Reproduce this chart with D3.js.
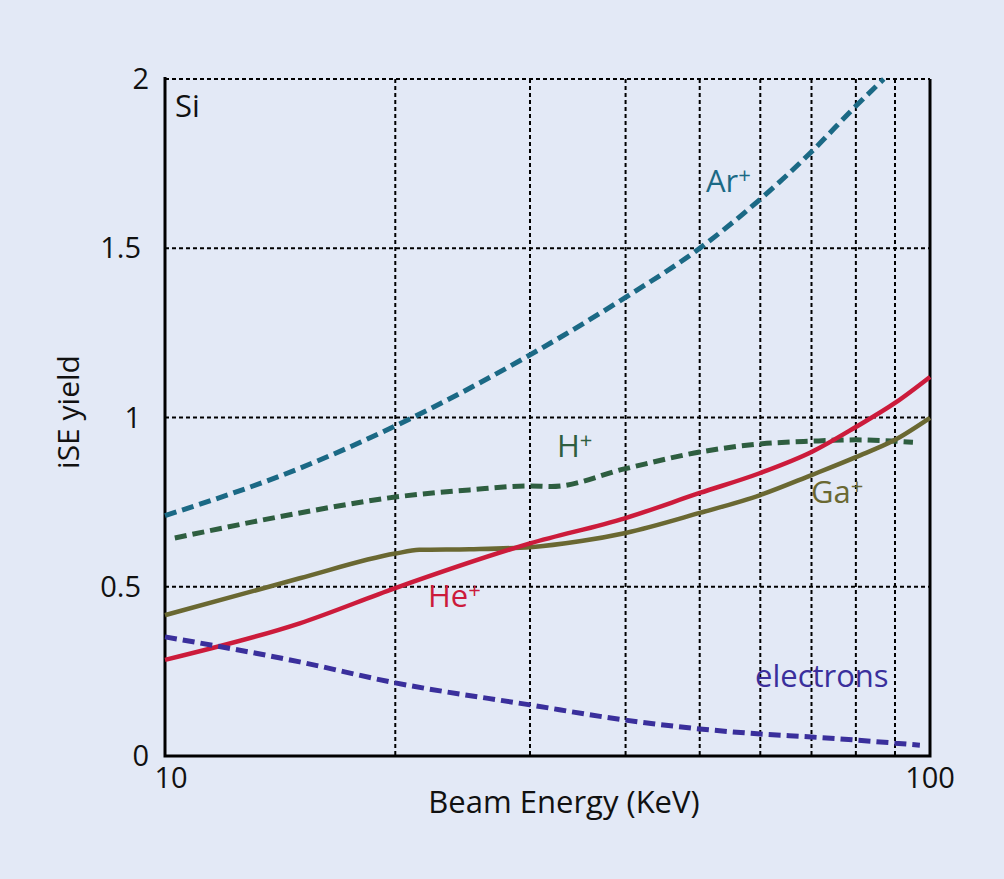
<!DOCTYPE html>
<html><head><meta charset="utf-8">
<script src="https://cdn.jsdelivr.net/npm/d3@7"></script>
<style>
html,body{margin:0;padding:0;background:#e3e9f6;}
svg{display:block;}
text{font-family:"Open Sans",sans-serif;}
</style></head>
<body>
<svg id="c" width="1004" height="879"></svg>
<script>
// ---- data ----
const arE   = [10, 15, 20, 30, 40, 50, 60, 70, 80, 87];
const arY   = [0.71, 0.85, 0.975, 1.185, 1.355, 1.50, 1.645, 1.785, 1.92, 2.0];
const hE    = [10.3, 15, 20, 25, 30, 32, 40, 50, 60, 70, 80, 90, 95];
const hY    = [0.644, 0.718, 0.765, 0.786, 0.798, 0.796, 0.849, 0.898, 0.922, 0.93, 0.934, 0.93, 0.927];
const gaE   = [10, 15, 20, 21.5, 25, 30, 35, 40, 50, 60, 70, 80, 90, 100];
const gaY   = [0.416, 0.525, 0.598, 0.609, 0.611, 0.617, 0.635, 0.659, 0.718, 0.771, 0.83, 0.883, 0.934, 0.999];
const heE   = [10, 15, 20, 30, 40, 50, 60, 70, 80, 90, 100];
const heY   = [0.284, 0.392, 0.496, 0.628, 0.703, 0.777, 0.836, 0.898, 0.972, 1.043, 1.12];
const elE   = [10, 15, 20, 30, 40, 50, 60, 70, 80, 90, 97];
const elY   = [0.352, 0.278, 0.216, 0.151, 0.106, 0.08, 0.065, 0.056, 0.047, 0.038, 0.032];
const xGrid = [20, 30, 40, 50, 60, 70, 80, 90];
const yGrid = [0.5, 1, 1.5, 2];
const xTicks = [10, 100];
const yTicks = [0, 0.5, 1, 1.5, 2];
const yTickLabels = ["0", "0.5", "1", "1.5", "2"];

const series = [
  {name:"Ar", E:arE, Y:arY, color:"#1b6985", dash:"12,6", w:5, lx:706, ly:192},
  {name:"H",  E:hE,  Y:hY,  color:"#2e5e40", dash:"12,6", w:5, lx:557, ly:457},
  {name:"Ga", E:gaE, Y:gaY, color:"#6a6832", dash:null,   w:4.5, lx:811, ly:503},
  {name:"He", E:heE, Y:heY, color:"#cc1b3b", dash:null,   w:4.5, lx:428, ly:607},
  {name:"electrons", E:elE, Y:elY, color:"#3a2f9c", dash:"12,6", w:5, lx:755, ly:687, noplus:true}
];

const svg = d3.select("#c");
const L=165, R=930, T=79, B=756;
const x = d3.scaleLog().domain([10,100]).range([L,R]);
const y = d3.scaleLinear().domain([0,2]).range([B,T]);

// grid
const g = svg.append("g");
g.selectAll("line.vx").data(xGrid).join("line")
  .attr("x1",d=>x(d)).attr("x2",d=>x(d)).attr("y1",T).attr("y2",B)
  .attr("stroke","#000").attr("stroke-width",2).attr("stroke-dasharray","4,3");
g.selectAll("line.hy").data(yGrid).join("line")
  .attr("x1",L).attr("x2",R).attr("y1",d=>y(d)).attr("y2",d=>y(d))
  .attr("stroke","#000").attr("stroke-width",2).attr("stroke-dasharray","4,3");

// axes frame (left, bottom, right)
svg.append("path").attr("d",`M${L},${T-2}V${B}H${R}V${T}`)
  .attr("fill","none").attr("stroke","#000").attr("stroke-width",3);

// curves
const line = d3.line().x(d=>x(d[0])).y(d=>y(d[1])).curve(d3.curveMonotoneX);
series.forEach(s=>{
  const pts = s.E.map((e,i)=>[e,s.Y[i]]);
  svg.append("path").attr("d",line(pts)).attr("fill","none")
    .attr("stroke",s.color).attr("stroke-width",s.w)
    .attr("stroke-dasharray",s.dash);
  const t = svg.append("text").attr("x",s.lx).attr("y",s.ly)
    .attr("fill",s.color).attr("font-size",31);
  t.append("tspan").text(s.name);
  if(!s.noplus) t.append("tspan").attr("dy",-9).attr("font-size",22).text("+");
});

// tick labels
svg.selectAll("text.yt").data(yTicks).join("text")
  .attr("x",d=>(d===0||d===2)?149:141).attr("y",d=>y(d)).attr("dy","0.35em")
  .attr("text-anchor","end").attr("font-size",29).attr("fill","#111")
  .text((d,i)=>yTickLabels[i]);
svg.selectAll("text.xt").data(xTicks).join("text")
  .attr("x",(d,i)=>x(d)+(i===0?6:0)).attr("y",788)
  .attr("text-anchor","middle").attr("font-size",29).attr("fill","#111")
  .text(d=>d);

// axis titles
svg.append("text").attr("x",564).attr("y",813).attr("text-anchor","middle")
  .attr("font-size",31).attr("fill","#111").text("Beam Energy (KeV)");
svg.append("text").attr("transform","translate(79,412) rotate(-90)")
  .attr("text-anchor","middle").attr("font-size",30).attr("fill","#111").text("iSE yield");

// Si label
svg.append("text").attr("x",175).attr("y",117).attr("font-size",31).attr("fill","#111").text("Si");
</script>
</body></html>
